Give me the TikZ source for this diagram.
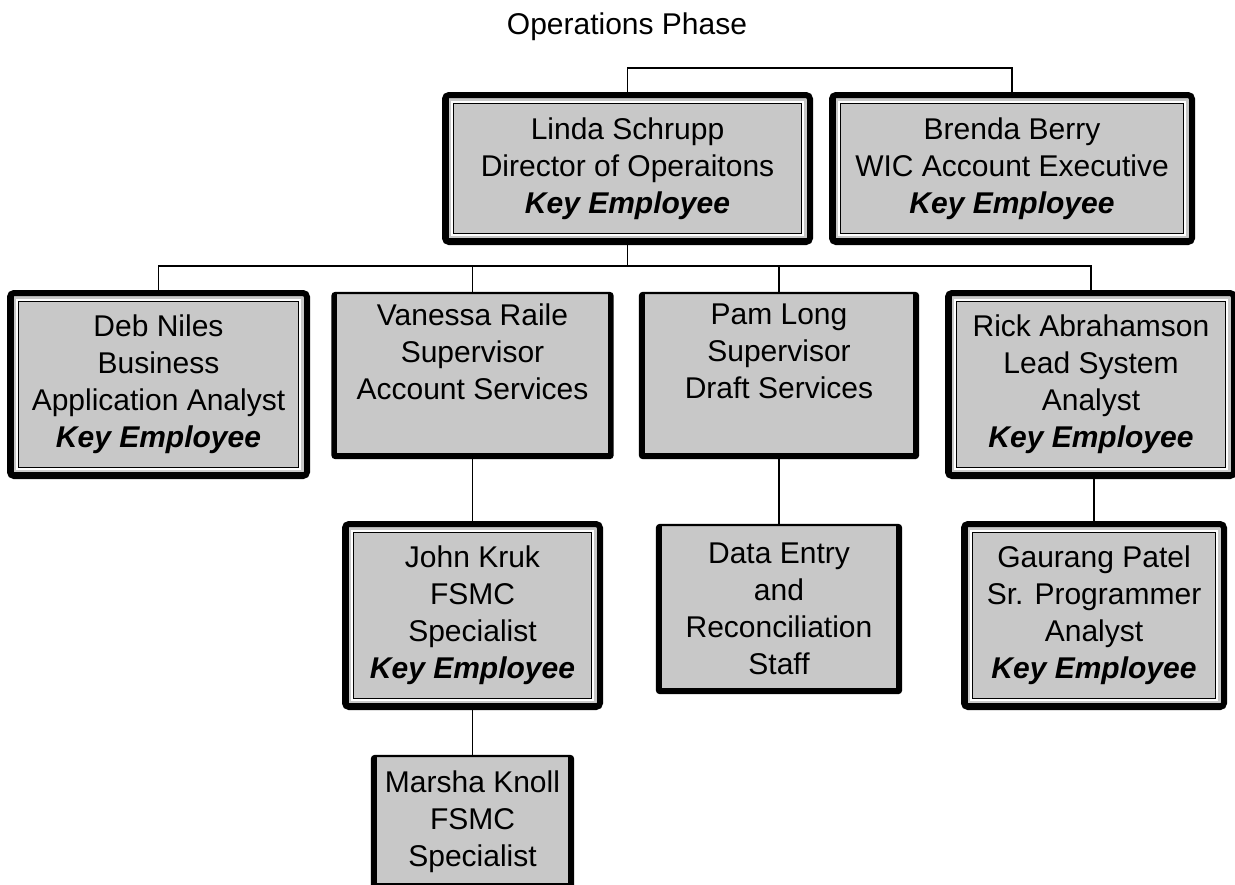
\documentclass[tikz,border=0pt]{standalone}
\usepackage{fontspec}
\setmainfont{Liberation Sans}
\definecolor{boxgray}{RGB}{200,200,200}
\newcommand{\keyline}{\textbf{\textit{Key Employee}}}
\begin{document}
\begin{tikzpicture}[x=0.5pt,y=-0.5pt,
  boxtext/.style={font=\fontsize{15pt}{18.5pt}\selectfont, align=center, inner sep=0pt},
  % plain box: thin top edge, heavy left/right/bottom edges
  plainbox/.style={boxtext, rectangle, fill=boxgray, draw=black, line width=1.2pt, rounded corners=1.5pt,
    path picture={
      \fill[black, sharp corners] (path picture bounding box.south west) rectangle ([xshift=2.4pt]path picture bounding box.north west);
      \fill[black, sharp corners] ([xshift=-2.4pt]path picture bounding box.south east) rectangle (path picture bounding box.north east);
      \fill[black, sharp corners] (path picture bounding box.south west) rectangle ([yshift=2.4pt]path picture bounding box.south east);
    }},
  % key employee box: heavy frame with a white rule and a thin inner rule
  keybox/.style={boxtext, rectangle, fill=boxgray, draw=black, line width=3pt, rounded corners=2pt,
    path picture={
      \fill[black, sharp corners] (path picture bounding box.south west) rectangle ([xshift=2.2pt]path picture bounding box.north west);
      \fill[black, sharp corners] (path picture bounding box.south west) rectangle ([yshift=2.2pt]path picture bounding box.south east);
      \draw[white, line width=0.8pt, sharp corners] ([shift={(3.4pt,-3.4pt)}]path picture bounding box.north west) rectangle ([shift={(-3.4pt,3.4pt)}]path picture bounding box.south east);
      \draw[black, line width=0.7pt, sharp corners] ([shift={(4.15pt,-4.15pt)}]path picture bounding box.north west) rectangle ([shift={(-4.15pt,4.15pt)}]path picture bounding box.south east);
    }},
  conn/.style={draw=black, line width=0.8pt},
]
\useasboundingbox (0,0) rectangle (1235,884);
\clip (0,0) rectangle (1235,884);

\node[boxtext] (title) at (627,27) {Operations Phase};

% top level
\node[keybox, minimum width=182.5pt, minimum height=73.5pt] (linda) at (627.5,168.5)
  {Linda Schrupp\\Director of Operaitons\\\keyline};
\node[keybox, minimum width=180pt, minimum height=73.5pt] (brenda) at (1012,168.5)
  {Brenda Berry\\WIC Account Executive\\\keyline};

% second level
\node[keybox, minimum width=148.5pt, minimum height=91.5pt] (deb) at (158.5,384.5)
  {Deb Niles\\Business\\Application Analyst\\\keyline};
\node[plainbox, minimum width=140pt, minimum height=82.5pt] (vanessa) at (472.5,375.5)
  {Vanessa Raile\\Supervisor\\Account Services\\\strut};
\node[plainbox, minimum width=139pt, minimum height=82.5pt] (pam) at (779,375.5)
  {Pam Long\\Supervisor\\Draft Services\\\strut};
\node[keybox, minimum width=143pt, minimum height=91.5pt] (rick) at (1091,384.5)
  {Rick Abrahamson\\Lead System\\Analyst\\\keyline};

% third level
\node[keybox, minimum width=127.5pt, minimum height=91.5pt] (john) at (472.5,615.5)
  {John Kruk\\FSMC\\Specialist\\\keyline};
\node[plainbox, minimum width=122pt, minimum height=84pt] (data) at (779,609)
  {Data Entry\\and\\Reconciliation\\Staff};
\node[keybox, minimum width=130pt, minimum height=91.5pt] (gaurang) at (1094,615.5)
  {Gaurang Patel\\Sr. Programmer\\Analyst\\\keyline};

% fourth level
\node[plainbox, minimum width=100.5pt, minimum height=66pt] (marsha) at (472.5,822)
  {Marsha Knoll\\FSMC\\Specialist};

% connectors
\coordinate (topbar) at (800,68);
\coordinate (bus) at (627,266);
\draw[conn] (linda.north) |- (topbar) -| (brenda.north);
\draw[conn] (linda.south) -- (linda.south |- bus);
\draw[conn] (deb.north) |- (bus) -| (rick.north);
\draw[conn] (vanessa.north) -- (vanessa.north |- bus);
\draw[conn] (pam.north) -- (pam.north |- bus);
\draw[conn] (vanessa.south) -- (john.north);
\draw[conn] (pam.south) -- (data.north);
\draw[conn] (gaurang.north |- rick.south) -- (gaurang.north);
\draw[conn] (john.south) -- (marsha.north);
\end{tikzpicture}
\end{document}
